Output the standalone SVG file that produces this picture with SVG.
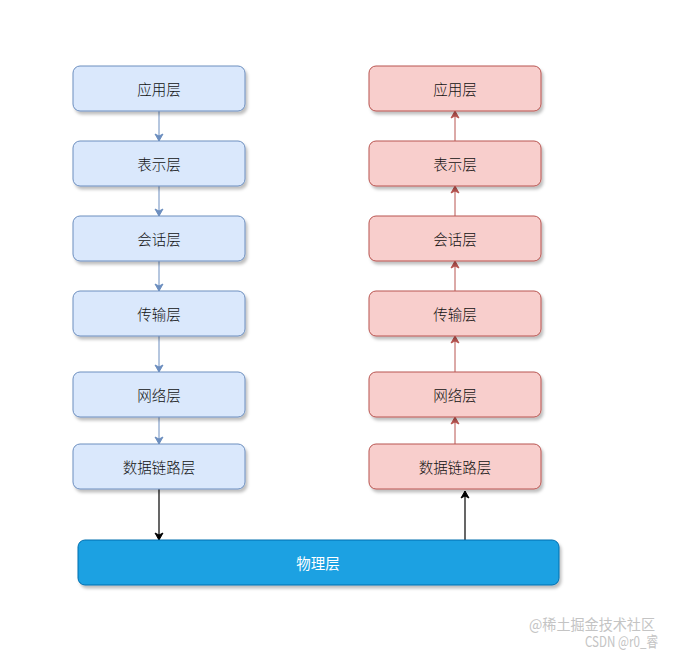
<svg xmlns="http://www.w3.org/2000/svg" width="673" height="654" viewBox="0 0 673 654">
<defs>
<filter id="sh" x="-10%" y="-20%" width="130%" height="160%">
<feDropShadow dx="2" dy="3" stdDeviation="1.5" flood-color="#000" flood-opacity="0.25"/>
</filter>
<marker id="mb" markerWidth="10" markerHeight="10" refX="8" refY="5" orient="auto" markerUnits="userSpaceOnUse">
<path d="M1,1 L8,5 L1,9 L3,5 Z" fill="#6c8ebf" stroke="#6c8ebf"/>
</marker>
<marker id="mr" markerWidth="10" markerHeight="10" refX="8" refY="5" orient="auto" markerUnits="userSpaceOnUse">
<path d="M1,1 L8,5 L1,9 L3,5 Z" fill="#b85450" stroke="#b85450"/>
</marker>
<marker id="mk" markerWidth="10" markerHeight="10" refX="8" refY="5" orient="auto" markerUnits="userSpaceOnUse">
<path d="M1,1 L8,5 L1,9 L3,5 Z" fill="#000" stroke="#000"/>
</marker>
</defs>
<style>
.b rect{fill:#dae8fc;stroke:#6c8ebf;stroke-width:1;filter:url(#sh)}
.r rect{fill:#f8cecc;stroke:#b85450;stroke-width:1;filter:url(#sh)}
.p rect{fill:#1ba1e2;stroke:#006eaf;stroke-width:1;filter:url(#sh)}
text{font-family:"Noto Sans CJK SC","Liberation Sans",sans-serif;font-size:14.5px;font-weight:300;text-anchor:middle;dominant-baseline:central;fill:#111}
.p text{fill:#fff;font-weight:400}
.cb{stroke:#6c8ebf;stroke-width:1;fill:none;marker-end:url(#mb)}
.cr{stroke:#b85450;stroke-width:1;fill:none;marker-end:url(#mr)}
.ck{stroke:#000;stroke-width:1.2;fill:none;marker-end:url(#mk)}
text.wm{fill:#c4c4c4;text-anchor:start;dominant-baseline:auto;font-weight:400}
</style>
<rect width="673" height="654" fill="#fff"/>
<g id="connectors">
<path class="cb" d="M159,111 V141"/>
<path class="cb" d="M159,186 V216"/>
<path class="cb" d="M159,261 V291"/>
<path class="cb" d="M159,336 V372"/>
<path class="cb" d="M159,417 V444"/>
<path class="ck" d="M159,489 V540"/>
<path class="cr" d="M455,141 V111"/>
<path class="cr" d="M455,216 V186"/>
<path class="cr" d="M455,291 V261"/>
<path class="cr" d="M455,372 V336"/>
<path class="cr" d="M455,444 V417"/>
<path class="ck" d="M465,540 V491"/>
</g>
<g id="l1" class="b"><rect x="73" y="66" width="172" height="45" rx="7"/><text x="159" y="88">应用层</text></g>
<g id="l2" class="b"><rect x="73" y="141" width="172" height="45" rx="7"/><text x="159" y="163">表示层</text></g>
<g id="l3" class="b"><rect x="73" y="216" width="172" height="45" rx="7"/><text x="159" y="238">会话层</text></g>
<g id="l4" class="b"><rect x="73" y="291" width="172" height="45" rx="7"/><text x="159" y="313">传输层</text></g>
<g id="l5" class="b"><rect x="73" y="372" width="172" height="45" rx="7"/><text x="159" y="394">网络层</text></g>
<g id="l6" class="b"><rect x="73" y="444" width="172" height="45" rx="7"/><text x="159" y="466">数据链路层</text></g>
<g id="r1" class="r"><rect x="369" y="66" width="172" height="45" rx="7"/><text x="455" y="88">应用层</text></g>
<g id="r2" class="r"><rect x="369" y="141" width="172" height="45" rx="7"/><text x="455" y="163">表示层</text></g>
<g id="r3" class="r"><rect x="369" y="216" width="172" height="45" rx="7"/><text x="455" y="238">会话层</text></g>
<g id="r4" class="r"><rect x="369" y="291" width="172" height="45" rx="7"/><text x="455" y="313">传输层</text></g>
<g id="r5" class="r"><rect x="369" y="372" width="172" height="45" rx="7"/><text x="455" y="394">网络层</text></g>
<g id="r6" class="r"><rect x="369" y="444" width="172" height="45" rx="7"/><text x="455" y="466">数据链路层</text></g>
<g id="phys" class="p"><rect x="78" y="540" width="481" height="45" rx="7"/><text x="318" y="562">物理层</text></g>
<text class="wm" x="529" y="630" font-size="13.5" textLength="126" lengthAdjust="spacingAndGlyphs">@稀土掘金技术社区</text>
<text class="wm" x="585" y="647" font-size="10.5" textLength="73" lengthAdjust="spacingAndGlyphs">CSDN @r0_睿</text>
</svg>
